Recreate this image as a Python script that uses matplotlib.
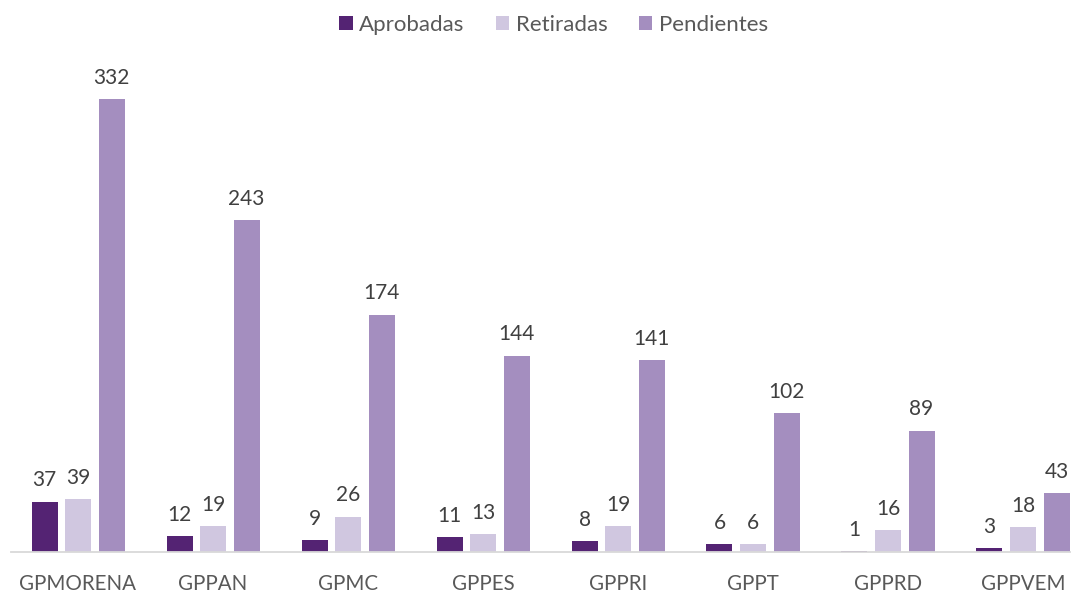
import matplotlib.pyplot as plt
import numpy as np

grupos = ["GPMORENA", "GPPAN", "GPMC", "GPPES", "GPPRI", "GPPT", "GPPRD", "GPPVEM"]
aprobadas = [37, 12, 9, 11, 8, 6, 1, 3]
retiradas = [39, 19, 26, 13, 19, 6, 16, 18]
pendientes = [332, 243, 174, 144, 141, 102, 89, 43]

series = [("Aprobadas", aprobadas, "#542373"),
          ("Retiradas", retiradas, "#D0C7E0"),
          ("Pendientes", pendientes, "#A48EBF")]

plt.rcParams['font.family'] = ['Lato', 'DejaVu Sans']

fig = plt.figure(figsize=(10.77, 5.94), dpi=100)
ax = fig.add_axes([10.5 / 1077, 42 / 594, (1070 - 10.5) / 1077, (552 - 60) / 594])

x = np.arange(len(grupos))
ancho = 26 / 135
paso = 33.5 / 135

for k, (nombre, valores, color) in enumerate(series):
    pos = x + (k - 1) * paso
    barras = ax.bar(pos, valores, width=ancho, color=color, label=nombre)
    for b, v in zip(barras, valores):
        ax.annotate(str(v), (b.get_x() + b.get_width() / 2, v),
                    xytext=(0, 8), textcoords="offset points",
                    ha="center", va="bottom", fontsize=15, color="#404040")

ax.set_xlim(-0.5, (1070 - 10.5) / 135 - 0.5)
ax.set_ylim(0, (552 - 60) / (453 / 332))
ax.set_yticks([])
ax.set_xticks(x)
ax.set_xticklabels(grupos, fontsize=14.8, color="#595959")
ax.tick_params(axis="x", length=0, pad=16)
for s in ["top", "right", "left"]:
    ax.spines[s].set_visible(False)
ax.spines["bottom"].set_color("#D9D9D9")
ax.spines["bottom"].set_linewidth(1.3)

fig.legend(loc="upper center", bbox_to_anchor=(0.514, 1.008), ncol=3, frameon=False,
           fontsize=16, handlelength=0.6, handleheight=0.6, handletextpad=0.3,
           columnspacing=1.4, labelcolor="#595959")

fig.savefig("out.png", dpi=100)
